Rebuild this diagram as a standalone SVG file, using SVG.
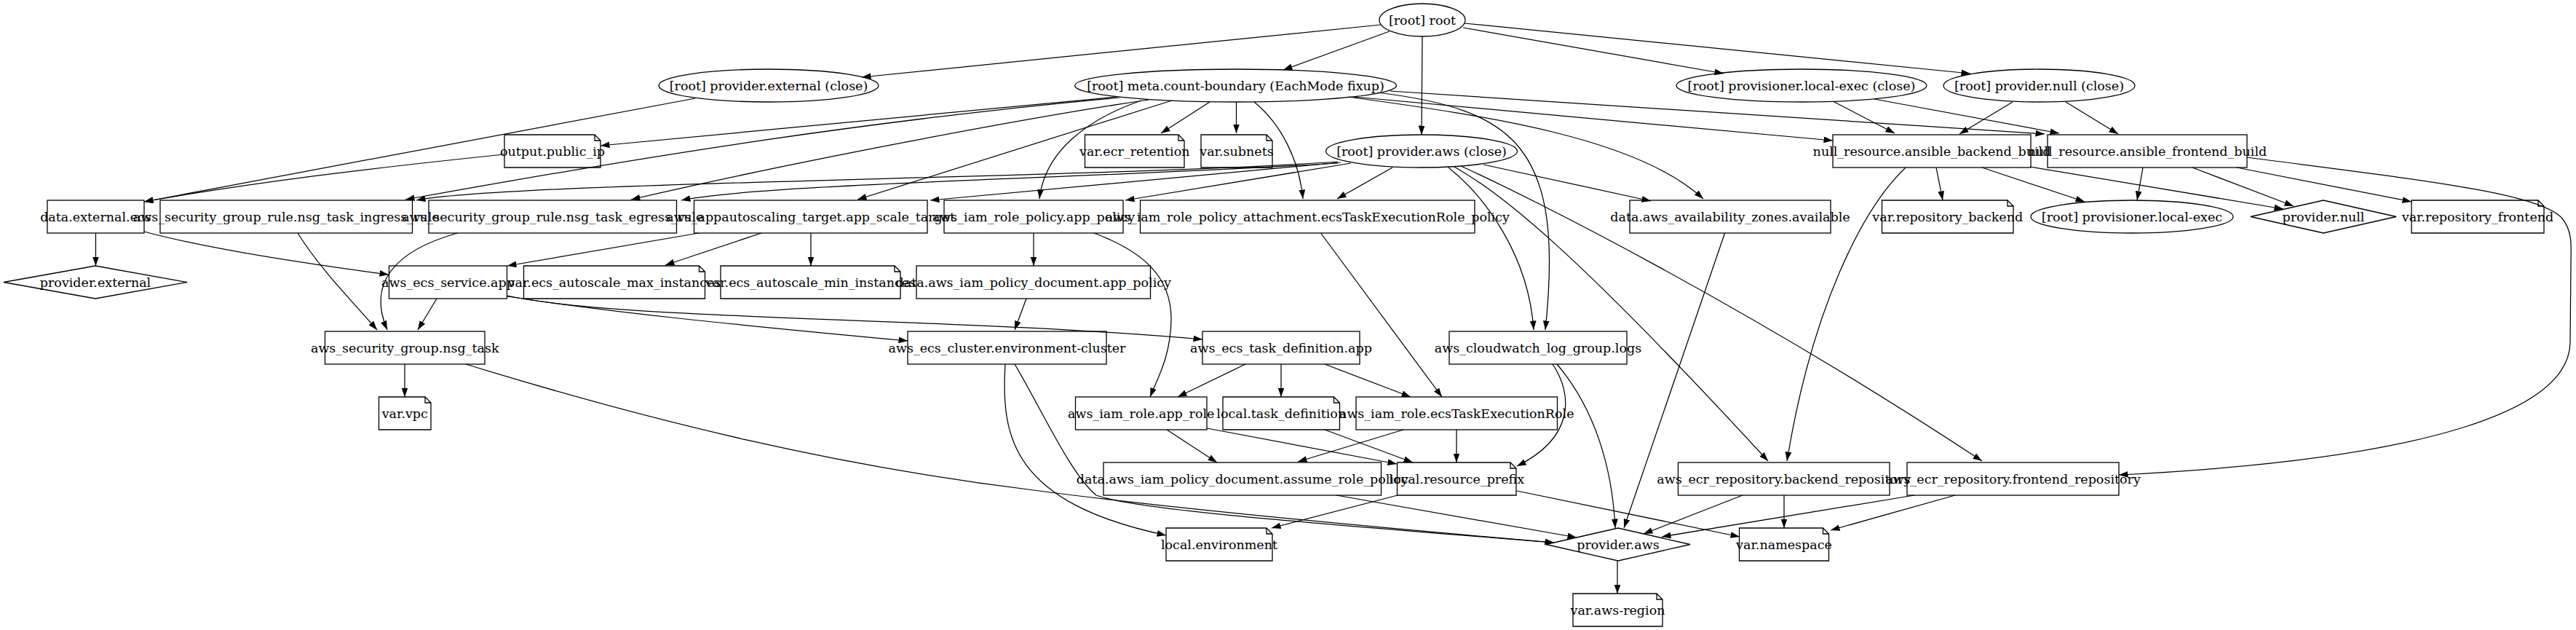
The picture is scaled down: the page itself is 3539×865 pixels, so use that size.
<svg xmlns="http://www.w3.org/2000/svg" width="3539" height="865" viewBox="0 0 3539 865">
<style>
.n{fill:none;stroke:#000;stroke-width:1.3}
.t{font-family:"DejaVu Serif","Liberation Serif",serif;font-size:17.5px;text-anchor:middle;fill:#000}
.e{fill:none;stroke:#000;stroke-width:1.25;marker-end:url(#ah)}
</style>
<defs>
<marker id="ah" markerUnits="userSpaceOnUse" markerWidth="14" markerHeight="10" refX="12.5" refY="4.4" orient="auto">
<path d="M0,0 L12.5,4.4 L0,8.8 Z" fill="#000"/>
</marker>
</defs>
<rect width="3539" height="865" fill="#fff"/>
<g id="connectors">
<path class="e" d="M1897,34 L1184,106"/>
<path class="e" d="M1909,43 L1763,96"/>
<path class="e" d="M1954,50 L1953,185"/>
<path class="e" d="M2010,38 L2368,101"/>
<path class="e" d="M2012,32 L2707,101"/>
<path class="e" d="M955,135 L198,277"/>
<path class="e" d="M1534,133 L825,200"/>
<path class="e" d="M1538,134 C1200,165 900,212 557,274"/>
<path class="e" d="M1578,137 C1420,160 1100,220 867,274"/>
<path class="e" d="M1610,138 L1178,274"/>
<path class="e" d="M1568,138 C1490,165 1435,210 1428,273"/>
<path class="e" d="M1662,140 L1595,183"/>
<path class="e" d="M1698.5,140 L1698.5,183"/>
<path class="e" d="M1723,140 C1760,170 1785,220 1790,273"/>
<path class="e" d="M1852,133 C2050,160 2250,190 2340,273"/>
<path class="e" d="M1892,127 C2080,150 2150,200 2123,453"/>
<path class="e" d="M1860,133 L2518,193"/>
<path class="e" d="M1910,125 L2809,184"/>
<path class="e" d="M1838,222 C1500,245 700,250 572,275"/>
<path class="e" d="M1838,224 C1500,245 1050,252 936,275"/>
<path class="e" d="M1842,223 L1278,275"/>
<path class="e" d="M1856,224 L1546,275"/>
<path class="e" d="M1913,230 L1837,273"/>
<path class="e" d="M2038,226 L2268,276"/>
<path class="e" d="M1990,230 C2040,270 2100,350 2107,453"/>
<path class="e" d="M1998,229 C2060,265 2150,330 2429,633"/>
<path class="e" d="M2007,228 C2100,270 2400,420 2723,633"/>
<path class="e" d="M2520,140 L2603,183"/>
<path class="e" d="M2575,136 L2829,183"/>
<path class="e" d="M2765,140 L2692,184"/>
<path class="e" d="M2838,140 L2910,184"/>
<path class="e" d="M2660,230 L2669,275"/>
<path class="e" d="M2723,230 L2864,277"/>
<path class="e" d="M2789,229 L3137,287"/>
<path class="e" d="M2618,230 C2560,285 2490,420 2455,633"/>
<path class="e" d="M2944,230 L2936,275"/>
<path class="e" d="M3012,230 L3151,283"/>
<path class="e" d="M3073,230 L3313,277"/>
<path class="e" d="M3087,216 C3330,248 3490,265 3520,300 C3535,318 3532,340 3532,360 L3531,470 C3530,560 3350,630 2911,652"/>
<path class="e" d="M131.5,320 L131.5,365"/>
<path class="e" d="M692,212 C500,232 350,250 198,277"/>
<path class="e" d="M198,318 C280,340 420,362 534,377"/>
<path class="e" d="M960,320 L697,365"/>
<path class="e" d="M1046,320 L914,364"/>
<path class="e" d="M1114,320 L1114,365"/>
<path class="e" d="M1420,320 L1420,365"/>
<path class="e" d="M1503,320 C1570,345 1610,380 1609,440 C1608,490 1590,520 1580,545"/>
<path class="e" d="M1814.5,320 L1981,545"/>
<path class="e" d="M2369.6,320 L2231,725"/>
<path class="e" d="M409,320 C440,370 490,420 518,453"/>
<path class="e" d="M628.5,320 C540,345 505,390 532,453"/>
<path class="e" d="M600,410 L574,453"/>
<path class="e" d="M697,407 C850,430 1000,445 1247,468"/>
<path class="e" d="M697,406 C850,440 1300,435 1652,466"/>
<path class="e" d="M1410,410 L1394,453"/>
<path class="e" d="M556,500 L556,545"/>
<path class="e" d="M640,500 C900,580 1150,640 1420,673 C1600,697 1900,725 2135,745"/>
<path class="e" d="M1394,500 C1430,560 1470,650 1506,680 C1560,700 1800,718 2135,745"/>
<path class="e" d="M1381,500 C1375,600 1390,690 1602,735"/>
<path class="e" d="M1711,500 L1618,545"/>
<path class="e" d="M1760,500 L1760,545"/>
<path class="e" d="M1820,500 L1938,545"/>
<path class="e" d="M2133,500 C2160,540 2165,600 2084,640"/>
<path class="e" d="M2139,500 C2190,560 2215,640 2219,725"/>
<path class="e" d="M1603,590 L1672,635"/>
<path class="e" d="M1658,588 L1919,637"/>
<path class="e" d="M1820,590 L1941,635"/>
<path class="e" d="M1928,590 L1783,634"/>
<path class="e" d="M2001,590 L2001,635"/>
<path class="e" d="M1836,680 L2166,738"/>
<path class="e" d="M1920,680 L1747,725"/>
<path class="e" d="M2084,674 L2390,737"/>
<path class="e" d="M2394,680 L2258,733"/>
<path class="e" d="M2451,680 L2451,725"/>
<path class="e" d="M2630,680 L2283,737"/>
<path class="e" d="M2686,680 L2515,728"/>
<path class="e" d="M2222,770 L2222,815"/>
</g>
<g id="n-root"><ellipse class="n" cx="1954" cy="27.5" rx="59" ry="22.5"/><text class="t" x="1954" y="33.5">[root] root</text></g>
<g id="n-provider-external-close"><ellipse class="n" cx="1056" cy="117.5" rx="151" ry="22.5"/><text class="t" x="1056" y="123.5">[root] provider.external (close)</text></g>
<g id="n-meta"><ellipse class="n" cx="1697.5" cy="117.5" rx="221" ry="22.5"/><text class="t" x="1697.5" y="123.5">[root] meta.count-boundary (EachMode fixup)</text></g>
<g id="n-provisioner-close"><ellipse class="n" cx="2475" cy="117.5" rx="172" ry="22.5"/><text class="t" x="2475" y="123.5">[root] provisioner.local-exec (close)</text></g>
<g id="n-provider-null-close"><ellipse class="n" cx="2801.5" cy="117.5" rx="131.5" ry="22.5"/><text class="t" x="2801.5" y="123.5">[root] provider.null (close)</text></g>
<g id="n-output-public-ip"><path class="n" d="M693,185 H817 L825,193 V230 H693 Z M817,185 V193 H825"/><text class="t" x="759" y="213.5">output.public_ip</text></g>
<g id="n-var-ecr-retention"><path class="n" d="M1490.5,185 H1619 L1627,193 V230 H1490.5 Z M1619,185 V193 H1627"/><text class="t" x="1558.75" y="213.5">var.ecr_retention</text></g>
<g id="n-var-subnets"><path class="n" d="M1650,185 H1740 L1748,193 V230 H1650 Z M1740,185 V193 H1748"/><text class="t" x="1699" y="213.5">var.subnets</text></g>
<g id="n-provider-aws-close"><ellipse class="n" cx="1953" cy="207.5" rx="131.5" ry="22.5"/><text class="t" x="1953" y="213.5">[root] provider.aws (close)</text></g>
<g id="n-null-backend"><rect class="n" x="2518" y="185" width="272" height="45"/><text class="t" x="2654" y="213.5">null_resource.ansible_backend_build</text></g>
<g id="n-null-frontend"><rect class="n" x="2813" y="185" width="274" height="45"/><text class="t" x="2950" y="213.5">null_resource.ansible_frontend_build</text></g>
<g id="n-data-external-ecs"><rect class="n" x="65" y="275" width="133" height="45"/><text class="t" x="131.5" y="303.5">data.external.ecs</text></g>
<g id="n-sg-ingress"><rect class="n" x="220" y="275" width="346.5" height="45"/><text class="t" x="393.25" y="303.5">aws_security_group_rule.nsg_task_ingress_rule</text></g>
<g id="n-sg-egress"><rect class="n" x="589" y="275" width="340.5" height="45"/><text class="t" x="759.25" y="303.5">aws_security_group_rule.nsg_task_egress_rule</text></g>
<g id="n-appautoscaling"><rect class="n" x="953.5" y="275" width="320.5" height="45"/><text class="t" x="1113.75" y="303.5">aws_appautoscaling_target.app_scale_target</text></g>
<g id="n-iam-role-policy"><rect class="n" x="1297" y="275" width="246" height="45"/><text class="t" x="1420" y="303.5">aws_iam_role_policy.app_policy</text></g>
<g id="n-iam-attachment"><rect class="n" x="1566.5" y="275" width="459.5" height="45"/><text class="t" x="1796.25" y="303.5">aws_iam_role_policy_attachment.ecsTaskExecutionRole_policy</text></g>
<g id="n-availability-zones"><rect class="n" x="2239" y="275" width="276" height="45"/><text class="t" x="2377" y="303.5">data.aws_availability_zones.available</text></g>
<g id="n-var-repository-backend"><path class="n" d="M2585.5,275 H2758 L2766,283 V320 H2585.5 Z M2758,275 V283 H2766"/><text class="t" x="2675.75" y="303.5">var.repository_backend</text></g>
<g id="n-provisioner-local-exec"><ellipse class="n" cx="2929" cy="297.5" rx="139" ry="22.5"/><text class="t" x="2929" y="303.5">[root] provisioner.local-exec</text></g>
<g id="n-provider-null"><polygon class="n" points="3092,297.5 3192,275 3292,297.5 3192,320"/><text class="t" x="3192" y="303.5">provider.null</text></g>
<g id="n-var-repository-frontend"><path class="n" d="M3313,275 H3487 L3495,283 V320 H3313 Z M3487,275 V283 H3495"/><text class="t" x="3404" y="303.5">var.repository_frontend</text></g>
<g id="n-provider-external"><polygon class="n" points="5,387.5 131,365 257,387.5 131,410"/><text class="t" x="131" y="393.5">provider.external</text></g>
<g id="n-ecs-service"><rect class="n" x="534.5" y="365" width="162" height="45"/><text class="t" x="615.5" y="393.5">aws_ecs_service.app</text></g>
<g id="n-var-max"><path class="n" d="M719.5,365 H960.5 L968.5,373 V410 H719.5 Z M960.5,365 V373 H968.5"/><text class="t" x="844" y="393.5">var.ecs_autoscale_max_instances</text></g>
<g id="n-var-min"><path class="n" d="M990,365 H1229 L1237,373 V410 H990 Z M1229,365 V373 H1237"/><text class="t" x="1113.5" y="393.5">var.ecs_autoscale_min_instances</text></g>
<g id="n-app-policy-doc"><rect class="n" x="1259" y="365" width="321.5" height="45"/><text class="t" x="1419.75" y="393.5">data.aws_iam_policy_document.app_policy</text></g>
<g id="n-nsg-task"><rect class="n" x="446.5" y="455" width="219.5" height="45"/><text class="t" x="556.25" y="483.5">aws_security_group.nsg_task</text></g>
<g id="n-ecs-cluster"><rect class="n" x="1247" y="455" width="273" height="45"/><text class="t" x="1383.5" y="483.5">aws_ecs_cluster.environment-cluster</text></g>
<g id="n-task-definition"><rect class="n" x="1652" y="455" width="216" height="45"/><text class="t" x="1760" y="483.5">aws_ecs_task_definition.app</text></g>
<g id="n-logs"><rect class="n" x="1991" y="455" width="244" height="45"/><text class="t" x="2113" y="483.5">aws_cloudwatch_log_group.logs</text></g>
<g id="n-var-vpc"><path class="n" d="M520.5,545 H584 L592,553 V590 H520.5 Z M584,545 V553 H592"/><text class="t" x="556.25" y="573.5">var.vpc</text></g>
<g id="n-app-role"><rect class="n" x="1477.5" y="545" width="180.5" height="45"/><text class="t" x="1567.75" y="573.5">aws_iam_role.app_role</text></g>
<g id="n-local-task-definition"><path class="n" d="M1680,545 H1832.5 L1840.5,553 V590 H1680 Z M1832.5,545 V553 H1840.5"/><text class="t" x="1760.25" y="573.5">local.task_definition</text></g>
<g id="n-exec-role"><rect class="n" x="1863" y="545" width="276.5" height="45"/><text class="t" x="2001.25" y="573.5">aws_iam_role.ecsTaskExecutionRole</text></g>
<g id="n-assume-role-doc"><rect class="n" x="1516" y="635" width="381.5" height="45"/><text class="t" x="1706.75" y="663.5">data.aws_iam_policy_document.assume_role_policy</text></g>
<g id="n-local-resource-prefix"><path class="n" d="M1919.5,635 H2075 L2083,643 V680 H1919.5 Z M2075,635 V643 H2083"/><text class="t" x="2001.25" y="663.5">local.resource_prefix</text></g>
<g id="n-ecr-backend"><rect class="n" x="2305.5" y="635" width="290.5" height="45"/><text class="t" x="2450.75" y="663.5">aws_ecr_repository.backend_repository</text></g>
<g id="n-ecr-frontend"><rect class="n" x="2620" y="635" width="291" height="45"/><text class="t" x="2765.5" y="663.5">aws_ecr_repository.frontend_repository</text></g>
<g id="n-local-environment"><path class="n" d="M1602,725 H1740 L1748,733 V770 H1602 Z M1740,725 V733 H1748"/><text class="t" x="1675" y="753.5">local.environment</text></g>
<g id="n-provider-aws"><polygon class="n" points="2124,747.5 2223,725 2322,747.5 2223,770"/><text class="t" x="2223" y="753.5">provider.aws</text></g>
<g id="n-var-namespace"><path class="n" d="M2389.5,725 H2504.5 L2512.5,733 V770 H2389.5 Z M2504.5,725 V733 H2512.5"/><text class="t" x="2451" y="753.5">var.namespace</text></g>
<g id="n-var-aws-region"><path class="n" d="M2161,815 H2276 L2284,823 V860 H2161 Z M2276,815 V823 H2284"/><text class="t" x="2222.5" y="843.5">var.aws-region</text></g>
</svg>
